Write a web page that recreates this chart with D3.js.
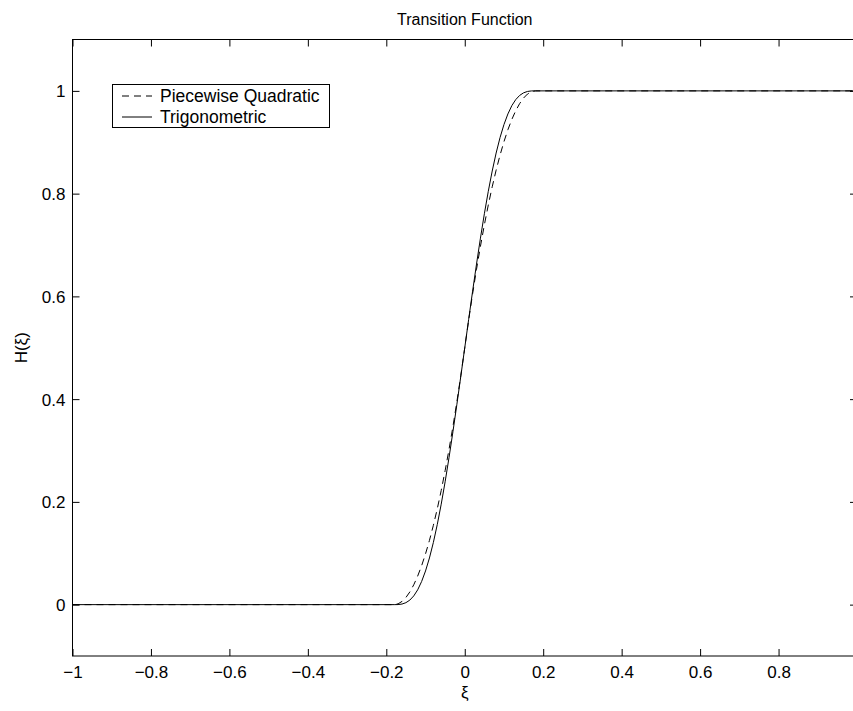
<!DOCTYPE html>
<html>
<head>
<meta charset="utf-8">
<script src="https://cdn.jsdelivr.net/npm/d3@7"></script>
<style>
  html, body { margin: 0; padding: 0; background: #fff; }
  svg { display: block; }
  text { font-family: "Liberation Sans", Arial, Helvetica, sans-serif; fill: #000; }
</style>
</head>
<body>
<svg id="chart" width="853" height="711"></svg>
<script>
// ---- data ----
const xi = [-1,
  -0.18, -0.17, -0.16, -0.15, -0.14, -0.13, -0.12, -0.11, -0.10, -0.09,
  -0.08, -0.07, -0.06, -0.05, -0.04, -0.03, -0.02, -0.01, 0,
  0.01, 0.02, 0.03, 0.04, 0.05, 0.06, 0.07, 0.08, 0.09, 0.10,
  0.11, 0.12, 0.13, 0.14, 0.15, 0.16, 0.17, 0.18,
  1];
const quadratic = [0,
  0, 0.0015, 0.0062, 0.0139, 0.0247, 0.0386, 0.0556, 0.0756, 0.0988, 0.125,
  0.1543, 0.1867, 0.2222, 0.2608, 0.3025, 0.3472, 0.3951, 0.4460, 0.5,
  0.5540, 0.6049, 0.6528, 0.6975, 0.7392, 0.7778, 0.8133, 0.8457, 0.875, 0.9012,
  0.9244, 0.9444, 0.9614, 0.9753, 0.9861, 0.9938, 0.9985, 1,
  1];
const trigonometric = [0,
  0, 0.0001, 0.0011, 0.0038, 0.0088, 0.0170, 0.0288, 0.0449, 0.0655, 0.0908,
  0.1210, 0.1560, 0.1955, 0.2392, 0.2866, 0.3371, 0.3900, 0.4446, 0.5,
  0.5554, 0.6100, 0.6629, 0.7134, 0.7608, 0.8045, 0.8440, 0.8790, 0.9092, 0.9345,
  0.9551, 0.9712, 0.9830, 0.9912, 0.9962, 0.9989, 0.9999, 1,
  1];
const xTicks = [-1, -0.8, -0.6, -0.4, -0.2, 0, 0.2, 0.4, 0.6, 0.8, 1];
const yTicks = [0, 0.2, 0.4, 0.6, 0.8, 1];
const seriesNames = ["Piecewise Quadratic", "Trigonometric"];
const titleText = "Transition Function";
const xLabel = "\u03BE";
const yLabel = "H(\u03BE)";

// ---- layout ----
const L = 72.5, R = 857, T = 39.5, B = 656;
const fs = 16, tfs = 17;
const svg = d3.select("#chart");
const x = d3.scaleLinear().domain([-1, 1]).range([L, R]);
const y = d3.scaleLinear().domain([-0.1, 1.1]).range([B, T]);
const fmt = d => d === 0 ? "0" : (d < 0 ? "\u2212" : "") + String(Math.abs(d));

// curves
const line = d3.line().x((d, i) => x(xi[i])).y(d => y(d));
svg.append("path").datum(quadratic).attr("d", line)
  .attr("fill", "none").attr("stroke", "#000").attr("stroke-width", 1)
  .attr("stroke-dasharray", "7,5");
svg.append("path").datum(trigonometric).attr("d", line)
  .attr("fill", "none").attr("stroke", "#000").attr("stroke-width", 1);

// axes (ticks inward)
const tl = 7;
const gx = svg.append("g").attr("transform", `translate(0,${B})`)
  .call(d3.axisBottom(x).tickValues(xTicks).tickSizeInner(-tl).tickSizeOuter(0).tickPadding(tl + 3).tickFormat(fmt));
const gxt = svg.append("g").attr("transform", `translate(0,${T})`)
  .call(d3.axisTop(x).tickValues(xTicks).tickSizeInner(-tl).tickSizeOuter(0).tickFormat(""));
const gy = svg.append("g").attr("transform", `translate(${L},0)`)
  .call(d3.axisLeft(y).tickValues(yTicks).tickSizeInner(-tl).tickSizeOuter(0).tickPadding(tl).tickFormat(fmt));
const gyr = svg.append("g").attr("transform", `translate(${R},0)`)
  .call(d3.axisRight(y).tickValues(yTicks).tickSizeInner(-tl).tickSizeOuter(0).tickFormat(""));
[gx, gxt, gy, gyr].forEach(g => {
  g.select(".domain").remove();
  g.selectAll("line").attr("stroke", "#000").attr("stroke-width", 1);
  g.selectAll("text").style("font-family", '"Liberation Sans", Arial, sans-serif').style("font-size", tfs + "px").attr("fill", "#000");
});
gy.selectAll("text").attr("dy", "0.35em");

// box
svg.append("rect").attr("x", L).attr("y", T).attr("width", R - L).attr("height", B - T)
  .attr("fill", "none").attr("stroke", "#000").attr("stroke-width", 1);

// title and labels
svg.append("text").attr("x", (L + R) / 2).attr("y", 25).attr("text-anchor", "middle")
  .style("font-size", fs + "px").text(titleText);
svg.append("text").attr("x", (L + R) / 2).attr("y", 698).attr("text-anchor", "middle")
  .style("font-size", "17px").text(xLabel);
svg.append("text").attr("transform", `translate(27,${(T + B) / 2}) rotate(-90)`).attr("text-anchor", "middle")
  .style("font-size", "17px").text(yLabel);

// legend
const lg = svg.append("g");
lg.append("rect").attr("x", 112.5).attr("y", 84.5).attr("width", 217).attr("height", 43)
  .attr("fill", "#fff").attr("stroke", "#000").attr("stroke-width", 1);
const rows = [96, 117];
seriesNames.forEach((name, i) => {
  lg.append("line").attr("x1", 122).attr("x2", 152).attr("y1", rows[i]).attr("y2", rows[i])
    .attr("stroke", "#000").attr("stroke-width", 1)
    .attr("stroke-dasharray", i === 0 ? "7,5" : null);
  lg.append("text").attr("x", 160).attr("y", rows[i]).attr("dy", "0.35em")
    .style("font-size", "17.5px").text(name);
});
</script>
</body>
</html>
